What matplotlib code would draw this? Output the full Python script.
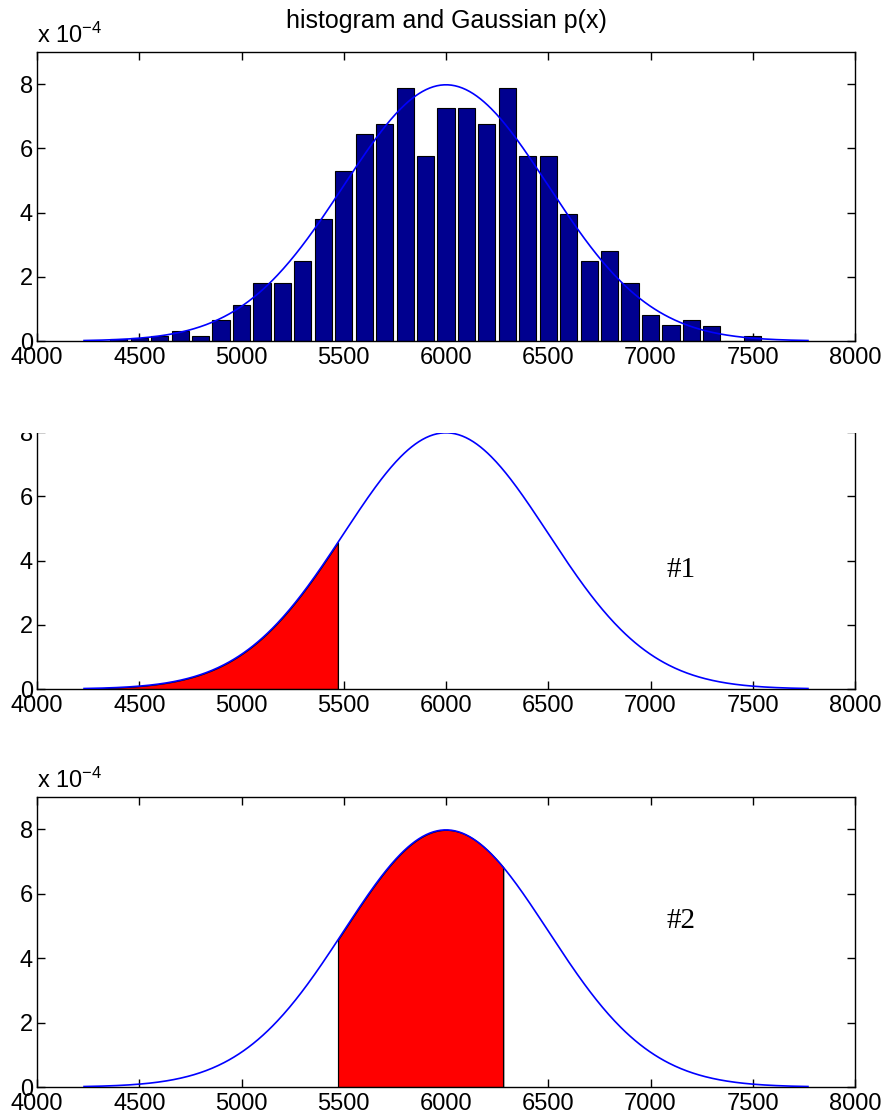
import numpy as np
import matplotlib
matplotlib.use("Agg")
from matplotlib import pyplot as plt
from matplotlib.patches import Rectangle

plt.rcParams['font.family'] = ['Liberation Sans', 'DejaVu Sans']
plt.rcParams['mathtext.fontset'] = 'custom'
plt.rcParams['mathtext.rm'] = 'Liberation Sans'
plt.rcParams['mathtext.it'] = 'Liberation Sans'

# histogram bins (centres) and heights, in units of 1e-4
bin_centers = [4400, 4500, 4600, 4700, 4800, 4900, 5000, 5100, 5200, 5300,
               5400, 5500, 5600, 5700, 5800, 5900, 6000, 6100, 6200, 6300,
               6400, 6500, 6600, 6700, 6800, 6900, 7000, 7100, 7200, 7300,
               7400, 7500]
density_e4 = [0.05, 0.08, 0.17, 0.31, 0.17, 0.66, 1.12, 1.80, 1.80, 2.48,
              3.80, 5.29, 6.44, 6.75, 7.88, 5.76, 7.25, 7.25, 6.75, 7.88,
              5.76, 5.76, 3.94, 2.48, 2.79, 1.80, 0.81, 0.50, 0.66, 0.48,
              0.0, 0.17]

# Gaussian p(x) parameters
mu = 6000
sigma = 500
x_min, x_max = 4230, 7770

# shaded intervals
area1 = (x_min, 5472)
area2 = (5472, 6280)

x_ticks = [4000, 4500, 5000, 5500, 6000, 6500, 7000, 7500, 8000]
y_ticks = [0, 2, 4, 6, 8]

x = np.linspace(x_min, x_max, 600)
p = 1e4 * np.exp(-0.5 * ((x - mu) / sigma) ** 2) / (np.sqrt(2 * np.pi) * sigma)

fig = plt.figure(figsize=(8.88, 11.19), dpi=100)
W, H = 888, 1119


def add_axes(top_px, bottom_px):
    return fig.add_axes([37 / W, 1 - bottom_px / H, 818 / W, (bottom_px - top_px) / H])


def style(ax, offset=True):
    ax.set_xlim(4000, 8000)
    ax.set_ylim(0, 9)
    ax.set_xticks(x_ticks)
    ax.set_yticks(y_ticks)
    ax.tick_params(direction='in', top=True, right=True, length=6, width=1,
                   labelsize=17, pad=3)
    ax.tick_params(axis='x', pad=4)
    for s in ax.spines.values():
        s.set_linewidth(1.0)
    if offset:
        ax.text(0, 1.015, r'x 10$^{\mathdefault{-4}}$', transform=ax.transAxes,
                ha='left', va='bottom', fontsize=17)


ax1 = add_axes(52, 341)
ax1.bar(bin_centers, density_e4, width=84, color='#00008f', edgecolor='black',
        linewidth=0.8, zorder=2)
ax1.plot(x, p, color='blue', lw=1.2, zorder=3)
ax1.set_title('histogram and Gaussian p(x)', fontsize=18, pad=17)
style(ax1)

ax2 = add_axes(400, 689)
m = (x >= area1[0]) & (x <= area1[1])
ax2.fill_between(x[m], 0, p[m], facecolor='red', edgecolor='black', linewidth=0.8, zorder=2)
ax2.vlines(area1[1], 0, np.interp(area1[1], x, p), color='black', lw=0.8, zorder=2)
ax2.plot(x, p, color='blue', lw=1.2, zorder=3)
ax2.text(7080, 3.7, '#1', family=['Liberation Serif'], fontsize=21, va='center')
style(ax2, offset=False)

ax3 = add_axes(797, 1087)
m = (x >= area2[0]) & (x <= area2[1])
xs = np.concatenate([[area2[0]], x[m], [area2[1]]])
ps = np.interp(xs, x, p)
ax3.fill_between(xs, 0, ps, facecolor='red', edgecolor='black', linewidth=0.8, zorder=2)
ax3.vlines(area2, 0, np.interp(area2, x, p), color='black', lw=0.8, zorder=2)
ax3.plot(x, p, color='blue', lw=1.2, zorder=3)
ax3.text(7080, 5.15, '#2', family=['Liberation Serif'], fontsize=21, va='center')
style(ax3)

# the top of the middle panel is cut away in the reference
fig.patches.append(Rectangle((0, 1 - 432.5 / H), 1, (432.5 - 364) / H,
                             transform=fig.transFigure, facecolor='white',
                             edgecolor='none', zorder=10))

fig.savefig('out.png', dpi=100)
